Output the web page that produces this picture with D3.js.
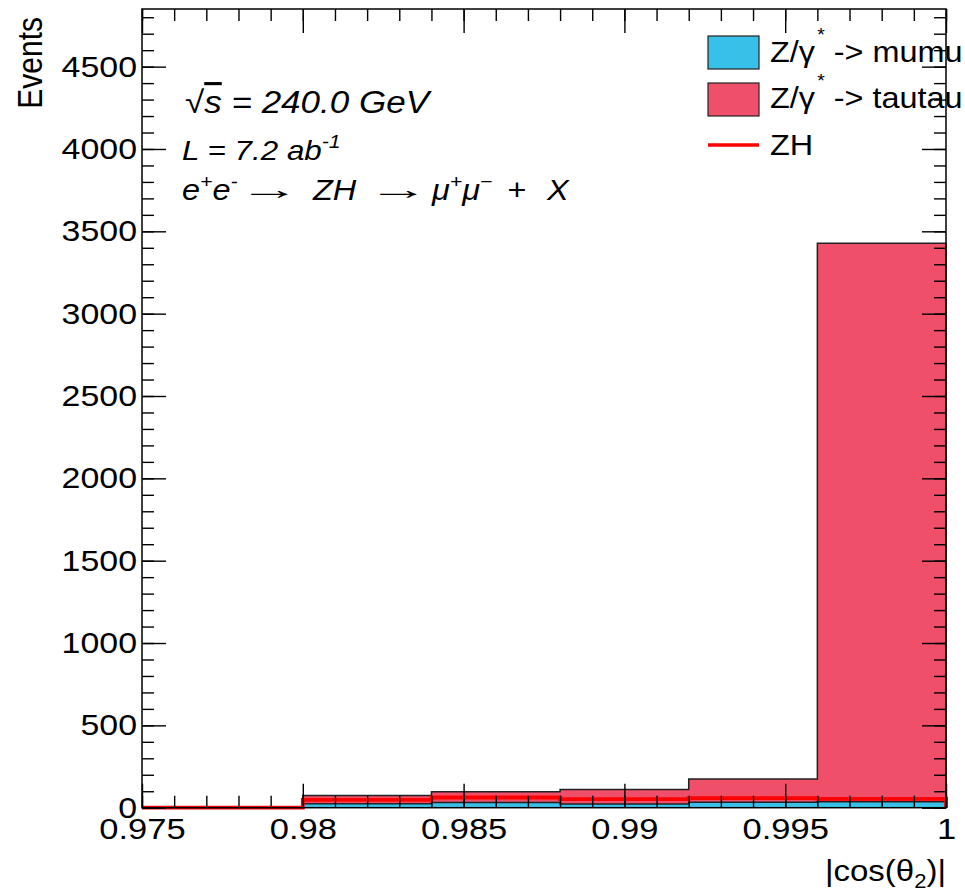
<!DOCTYPE html>
<html>
<head>
<meta charset="utf-8">
<script src="https://cdn.jsdelivr.net/npm/d3@7"></script>
<style>
  html, body { margin: 0; padding: 0; background: #fff; }
  svg { display: block; }
  text { font-family: "Liberation Sans", Arial, Helvetica, sans-serif; fill: #000; }
</style>
</head>
<body>
<svg id="chart" width="965" height="893"></svg>
<script>
// ---------------- data ----------------
const binEdges = [0.975, 0.98, 0.984, 0.988, 0.992, 0.996, 1.0];
const mumu     = [0, 24, 31, 22, 33, 36];
const tautau   = [0, 50, 66, 88, 142, 3391];
const zh       = [0, 48, 62, 52, 58, 53];
const xTickLabels = [0.975, 0.98, 0.985, 0.99, 0.995, 1];
const yTickLabels = [0, 500, 1000, 1500, 2000, 2500, 3000, 3500, 4000, 4500];
const legendLabels = ["mumu", "tautau", "ZH"];

// ---------------- layout ----------------
const L = 142, R = 946, T = 9, B = 807.7;
const yMax = 4850;
const colBlue = "#38c0e9", colPink = "#ef4f68", colRed = "#ff0000";
const FS = 30;

const svg = d3.select("#chart");
const x = d3.scaleLinear().domain([0.975, 1.0]).range([L, R]);
const y = d3.scaleLinear().domain([0, yMax]).range([B, T]);

// horizontal stretch of a text about its anchor x
function stretch(sel, s) {
  sel.each(function () {
    const t = d3.select(this);
    const ax = +(t.attr("x") || 0);
    t.attr("transform", `translate(${ax},0) scale(${s},1) translate(${-ax},0)`);
  });
}

const total = mumu.map((v, i) => v + tautau[i]);

function stepPts(vals) {
  const pts = vals.map((v, i) => [binEdges[i], v]);
  pts.push([binEdges[binEdges.length - 1], vals[vals.length - 1]]);
  return pts;
}
function outlinePts(vals) {
  const p = stepPts(vals);
  p.unshift([binEdges[0], 0]);
  p.push([binEdges[binEdges.length - 1], 0]);
  return p;
}
const area = d3.area().x(d => x(d[0])).y0(y(0)).y1(d => y(d[1])).curve(d3.curveStepAfter);
const line = d3.line().x(d => x(d[0])).y(d => y(d[1])).curve(d3.curveStepAfter);

const plot = svg.append("g");
plot.append("path").attr("d", area(stepPts(total))).attr("fill", colPink);
plot.append("path").attr("d", line(outlinePts(total))).attr("fill", "none")
  .attr("stroke", "#222").attr("stroke-width", 1.5);
plot.append("path").attr("d", area(stepPts(mumu))).attr("fill", colBlue);
plot.append("path").attr("d", line(outlinePts(mumu))).attr("fill", "none")
  .attr("stroke", "#222").attr("stroke-width", 1.5);
plot.append("path").attr("d", line(outlinePts(zh))).attr("fill", "none")
  .attr("stroke", colRed).attr("stroke-width", 3.8);

// ---------------- axes ----------------
const xMinor = d3.range(0, 26).map(i => 0.975 + i * 0.001);
const yMinor = d3.range(0, 49).map(i => i * 100);

function styleAxis(g) {
  g.select(".domain").remove();
  g.selectAll("line").attr("stroke", "#000").attr("stroke-width", 1.4);
  g.selectAll("text").attr("font-size", FS).attr("fill", "#000")
    .attr("font-family", '"Liberation Sans", Arial, sans-serif');
}

svg.append("g").attr("transform", `translate(0,${B})`)
  .call(d3.axisBottom(x).tickValues(xMinor).tickSize(-12).tickFormat(""))
  .call(styleAxis);
const xAx = svg.append("g").attr("transform", `translate(0,${B})`)
  .call(d3.axisBottom(x).tickValues(xTickLabels).tickSize(-24).tickPadding(10)
        .tickFormat(d => String(+d.toFixed(3))))
  .call(styleAxis);
stretch(xAx.selectAll("text"), 1.15);

svg.append("g").attr("transform", `translate(0,${T})`)
  .call(d3.axisTop(x).tickValues(xMinor).tickSize(-12).tickFormat(""))
  .call(styleAxis);
svg.append("g").attr("transform", `translate(0,${T})`)
  .call(d3.axisTop(x).tickValues(xTickLabels).tickSize(-24).tickFormat(""))
  .call(styleAxis);

svg.append("g").attr("transform", `translate(${L},0)`)
  .call(d3.axisLeft(y).tickValues(yMinor).tickSize(-12).tickFormat(""))
  .call(styleAxis);
const yAx = svg.append("g").attr("transform", `translate(${L},0)`)
  .call(d3.axisLeft(y).tickValues(yTickLabels).tickSize(-24).tickPadding(5)
        .tickFormat(d => String(d)))
  .call(styleAxis);
stretch(yAx.selectAll("text"), 1.13);

svg.append("g").attr("transform", `translate(${R},0)`)
  .call(d3.axisRight(y).tickValues(yMinor).tickSize(-12).tickFormat(""))
  .call(styleAxis);
svg.append("g").attr("transform", `translate(${R},0)`)
  .call(d3.axisRight(y).tickValues(yTickLabels).tickSize(-24).tickFormat(""))
  .call(styleAxis);

svg.append("rect").attr("x", L).attr("y", T).attr("width", R - L).attr("height", B - T)
  .attr("fill", "none").attr("stroke", "#000").attr("stroke-width", 1.5);

// axis titles
svg.append("text").attr("transform", "translate(42,17) rotate(-90) scale(1,1.15)")
  .attr("text-anchor", "end").attr("font-size", FS).text("Events");
const xt = svg.append("text").attr("x", R).attr("y", 881).attr("text-anchor", "end")
  .attr("font-size", FS);
xt.append("tspan").text("|cos(θ");
xt.append("tspan").attr("font-size", 20).attr("dy", 7).text("2");
xt.append("tspan").attr("dy", -7).text(")|");
stretch(xt, 1.1);

// ---------------- annotations ----------------
const t1 = svg.append("text").attr("x", 185).attr("y", 113).attr("font-size", 31)
  .attr("font-style", "italic");
t1.append("tspan").attr("font-style", "normal").text("√");
t1.append("tspan").attr("text-decoration", "overline").text("s");
t1.append("tspan").text(" = 240.0 GeV");
stretch(t1, 1.13);

const t2 = svg.append("text").attr("x", 182).attr("y", 160).attr("font-size", 28)
  .attr("font-style", "italic");
t2.append("tspan").text("L = 7.2 ab");
t2.append("tspan").attr("font-size", 19).attr("dy", -12).text("-1");
stretch(t2, 1.12);

// reaction line: pieces at reference positions (scaled coordinate system)
const S3 = 1.12, X3 = 182;
const px = v => (v - X3) / S3 + X3;
const t3 = svg.append("text").attr("x", X3).attr("y", 200).attr("font-size", 29)
  .attr("font-style", "italic");
t3.append("tspan").text("e");
t3.append("tspan").attr("font-size", 19).attr("dy", -12).text("+");
t3.append("tspan").attr("dy", 12).text("e");
t3.append("tspan").attr("font-size", 19).attr("dy", -12).text("-");
t3.append("tspan").attr("dy", 12).attr("x", px(313)).text("ZH");
t3.append("tspan").attr("x", px(432)).text("μ");
t3.append("tspan").attr("font-size", 19).attr("dy", -12).text("+");
t3.append("tspan").attr("dy", 12).text("μ");
t3.append("tspan").attr("font-size", 19).attr("dy", -12).text("−");
t3.append("tspan").attr("dy", 12).attr("x", px(507)).text("+");
t3.append("tspan").attr("x", px(547)).text("X");
stretch(t3, S3);
// long arrows
[239, 368].forEach(ax => {
  const a = svg.append("text").attr("x", ax).attr("y", 199).attr("font-size", 28)
    .attr("font-family", '"DejaVu Sans", sans-serif').text("→");
  stretch(a, 2.2);
});

// ---------------- legend ----------------
const lg = svg.append("g");
const lx0 = 708, lx1 = 759;
lg.append("rect").attr("x", lx0).attr("y", 36).attr("width", lx1 - lx0).attr("height", 33)
  .attr("fill", colBlue).attr("stroke", "#222").attr("stroke-width", 1.2);
lg.append("rect").attr("x", lx0).attr("y", 83).attr("width", lx1 - lx0).attr("height", 33)
  .attr("fill", colPink).attr("stroke", "#222").attr("stroke-width", 1.2);
lg.append("line").attr("x1", lx0).attr("x2", lx1).attr("y1", 145).attr("y2", 145)
  .attr("stroke", colRed).attr("stroke-width", 3.5);

function zgLabel(yb, name) {
  const t = lg.append("text").attr("x", 770).attr("y", yb).attr("font-size", FS);
  t.append("tspan").text("Z/γ");
  t.append("tspan").attr("font-size", 18).attr("dy", -21).attr("dx", 2).text("*");
  t.append("tspan").attr("dy", 21).text(" -> " + name);
  stretch(t, 1.08);
}
zgLabel(62, legendLabels[0]);
zgLabel(108, legendLabels[1]);
stretch(lg.append("text").attr("x", 770).attr("y", 155).attr("font-size", FS)
  .text(legendLabels[2]), 1.08);
</script>
</body>
</html>
